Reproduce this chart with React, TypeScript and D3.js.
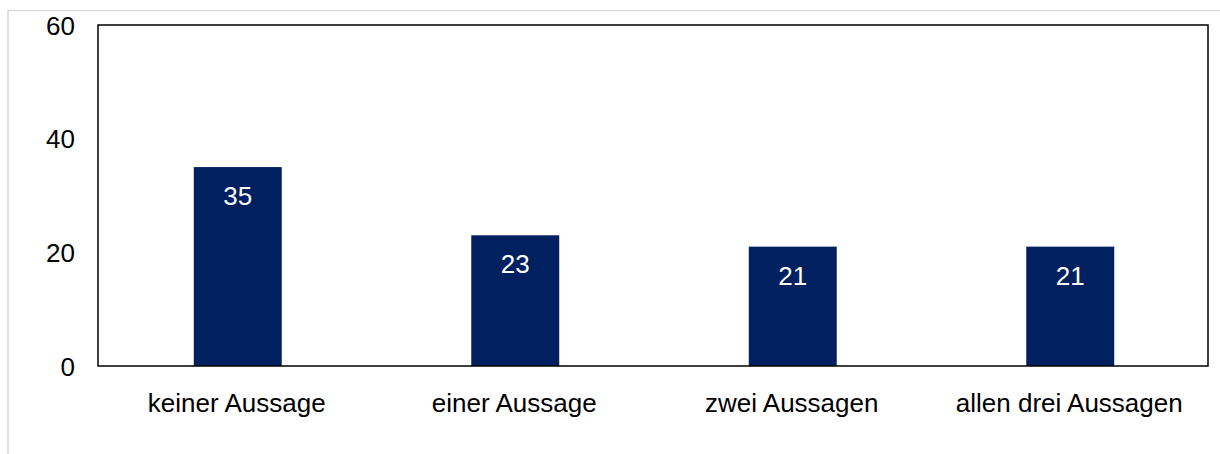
import * as d3 from 'd3';
import React, { useEffect, useRef } from 'react';

const categories = ['keiner Aussage', 'einer Aussage', 'zwei Aussagen', 'allen drei Aussagen'];
const values = [35, 23, 21, 21];
const yTicks = [0, 20, 40, 60];

const W = 1220;
const H = 454;
const margin = { left: 98, right: 12, top: 25, bottom: 88 };

export default function App() {
  const ref = useRef<SVGSVGElement>(null);

  useEffect(() => {
    drawChart();
  }, []);

  function drawChart() {
    const svg = d3.select(ref.current);
    svg.selectAll('*').remove();

    const x0 = margin.left;
    const x1 = W - margin.right;
    const yTop = margin.top;
    const yBot = H - margin.bottom;

    // outer light frame
    svg
      .append('rect')
      .attr('x', 8)
      .attr('y', 10.5)
      .attr('width', W)
      .attr('height', H)
      .attr('fill', 'none')
      .attr('stroke', '#d9d9d9')
      .attr('stroke-width', 1.5);

    const xScale = d3.scaleBand().domain(categories).range([x0, x1]).paddingInner(0.683).paddingOuter(0.3415);
    const yScale = d3.scaleLinear().domain([0, 60]).range([yBot, yTop]);

    const font = 'Liberation Sans, Arial, sans-serif';
    const fs = 26;

    // bars
    svg
      .selectAll('rect.bar')
      .data(values)
      .enter()
      .append('rect')
      .attr('class', 'bar')
      .attr('x', (d, i) => (xScale(categories[i]) as number) + 1)
      .attr('width', xScale.bandwidth())
      .attr('y', (d) => yScale(d))
      .attr('height', (d) => yBot - yScale(d))
      .attr('fill', '#00205f');

    // value labels
    svg
      .selectAll('text.val')
      .data(values)
      .enter()
      .append('text')
      .attr('class', 'val')
      .attr('x', (d, i) => (xScale(categories[i]) as number) + 1 + xScale.bandwidth() / 2)
      .attr('y', (d) => yScale(d) + 38)
      .attr('text-anchor', 'middle')
      .attr('fill', '#ffffff')
      .attr('font-family', font)
      .attr('font-size', fs)
      .text((d) => d);

    // plot frame
    svg
      .append('rect')
      .attr('x', x0)
      .attr('y', yTop)
      .attr('width', x1 - x0)
      .attr('height', yBot - yTop)
      .attr('fill', 'none')
      .attr('stroke', '#000')
      .attr('stroke-width', 1.5);

    // y tick labels
    svg
      .selectAll('text.ytick')
      .data(yTicks)
      .enter()
      .append('text')
      .attr('class', 'ytick')
      .attr('x', 75)
      .attr('y', (d) => yScale(d) + 9.5)
      .attr('text-anchor', 'end')
      .attr('fill', '#000')
      .attr('font-family', font)
      .attr('font-size', fs)
      .text((d) => d);

    // category labels
    svg
      .selectAll('text.cat')
      .data(categories)
      .enter()
      .append('text')
      .attr('class', 'cat')
      .attr('x', (d) => (xScale(d) as number) + xScale.bandwidth() / 2)
      .attr('y', yBot + 46)
      .attr('text-anchor', 'middle')
      .attr('fill', '#000')
      .attr('font-family', font)
      .attr('font-size', fs)
      .text((d) => d);
  }

  return (
    <svg
      ref={ref}
      width={W}
      height={H}
      style={{ position: 'absolute', left: 0, top: 0, background: '#fff' }}
    />
  );
}
